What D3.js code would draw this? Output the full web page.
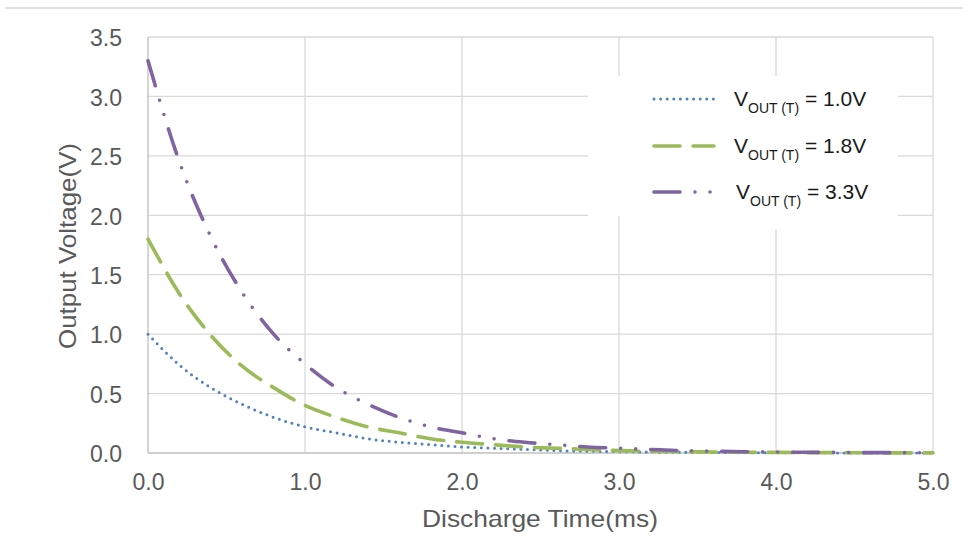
<!DOCTYPE html>
<html><head><meta charset="utf-8">
<script src="https://cdn.jsdelivr.net/npm/d3@7"></script>
<style>body{margin:0;background:#fff}svg{display:block}text{font-family:"Liberation Sans",Arial,sans-serif}</style>
</head><body><svg id="c" width="963" height="560"></svg>
<script>
const times = [0.0,0.2,0.4,0.6,0.8,1.0,1.2,1.4,1.6,1.8,2.0,2.2,2.4,2.6,2.8,3.0,3.2,3.4,3.6,3.8,4.0,4.2,4.4,4.6,4.8,5.0];
const v10 = [1.00,0.74,0.55,0.41,0.30,0.22,0.17,0.12,0.09,0.07,0.05,0.04,0.03,0.02,0.015,0.011,0.008,0.006,0.005,0.003,0.003,0.002,0.001,0.001,0.001,0.001];
const v18 = [1.80,1.34,0.99,0.73,0.55,0.40,0.30,0.22,0.17,0.12,0.09,0.07,0.05,0.04,0.03,0.02,0.015,0.011,0.008,0.006,0.005,0.003,0.003,0.002,0.001,0.001];
const v33 = [3.30,2.45,1.82,1.35,1.00,0.75,0.55,0.41,0.30,0.22,0.17,0.12,0.09,0.07,0.05,0.04,0.03,0.02,0.015,0.011,0.008,0.006,0.005,0.003,0.003,0.002];
const xTicks = [0,1,2,3,4,5];
const yTicks = [0,0.5,1,1.5,2,2.5,3,3.5];
const seriesNames = ["1.0V","1.8V","3.3V"];

const svg = d3.select("#c");
const x = d3.scaleLinear().domain([0,5]).range([148,933]);
const y = d3.scaleLinear().domain([0,3.5]).range([453,37]);

// top separator
svg.append("line").attr("x1",5).attr("x2",963).attr("y1",8).attr("y2",8).attr("stroke","#c8c8c8").attr("stroke-width",1.2);

// gridlines
svg.append("g").selectAll("line").data(yTicks.slice(1)).join("line")
  .attr("x1",x(0)).attr("x2",x(5)).attr("y1",d=>y(d)).attr("y2",d=>y(d))
  .attr("stroke","#d9d9d9").attr("stroke-width",1.3);
svg.append("g").selectAll("line").data(xTicks.slice(1)).join("line")
  .attr("x1",d=>x(d)).attr("x2",d=>x(d)).attr("y1",y(0)).attr("y2",y(3.5))
  .attr("stroke","#d9d9d9").attr("stroke-width",1.3);
// axes lines
svg.append("line").attr("x1",x(0)).attr("x2",x(0)).attr("y1",y(0)).attr("y2",y(3.5)).attr("stroke","#bfbfbf").attr("stroke-width",1.3);
svg.append("line").attr("x1",x(0)).attr("x2",x(5)).attr("y1",y(0)).attr("y2",y(0)).attr("stroke","#bfbfbf").attr("stroke-width",1.3);

// tick labels
const yAxis = d3.axisLeft(y).tickValues(yTicks).tickFormat(d3.format(".1f")).tickSize(0).tickPadding(26);
const gy = svg.append("g").attr("transform",`translate(${x(0)},0)`).call(yAxis);
gy.select(".domain").remove();
gy.selectAll("text").attr("font-size",23).attr("fill","#595959").attr("dy","0.38em").attr("font-family","Liberation Sans, Arial, sans-serif");
const xAxis = d3.axisBottom(x).tickValues(xTicks).tickFormat(d3.format(".1f")).tickSize(0).tickPadding(21);
const gx = svg.append("g").attr("transform",`translate(0,${y(0)})`).call(xAxis);
gx.select(".domain").remove();
gx.selectAll("text").attr("font-size",23).attr("fill","#595959").attr("font-family","Liberation Sans, Arial, sans-serif");

// axis titles
svg.append("text").attr("x",540).attr("y",527).attr("text-anchor","middle").attr("font-size",24).attr("fill","#595959")
  .attr("textLength",236).attr("lengthAdjust","spacingAndGlyphs").text("Discharge Time(ms)");
svg.append("text").attr("transform","translate(76,246) rotate(-90)").attr("text-anchor","middle").attr("font-size",24).attr("fill","#595959")
  .attr("textLength",206).attr("lengthAdjust","spacingAndGlyphs").text("Output Voltage(V)");

const styles = [
  {color:"#4f81c7", width:3, dash:"0,6.6", vals:v10},
  {color:"#9bbb59", width:3.6, dash:"26,13", vals:v18},
  {color:"#8064a2", width:3.6, dash:"26,15,0,15,0,15", vals:v33}
];
const line = d3.line().x((d,i)=>x(times[i])).y(d=>y(d)).curve(d3.curveMonotoneX);
const gl = svg.append("g");
styles.forEach(s=>{
  gl.append("path").attr("d",line(s.vals)).attr("fill","none").attr("stroke",s.color)
    .attr("stroke-width",s.width).attr("stroke-dasharray",s.dash).attr("stroke-linecap","round");
});

// legend background
svg.append("rect").attr("x",588).attr("y",76).attr("width",310).attr("height",140).attr("fill","#fff");
svg.append("rect").attr("x",717).attr("y",170).attr("width",168).attr("height",59).attr("fill","#fff");
const legY = [99,146,192];
const textX = [734,734,736];
styles.forEach((s,i)=>{
  svg.append("line").attr("x1",654).attr("x2",714).attr("y1",legY[i]).attr("y2",legY[i])
    .attr("stroke",s.color).attr("stroke-width",s.width).attr("stroke-dasharray",s.dash).attr("stroke-linecap","round");
  const t = svg.append("text").attr("x",textX[i]).attr("y",legY[i]+7).attr("font-size",21).attr("fill","#1a1a1a");
  t.append("tspan").text("V");
  t.append("tspan").attr("dy",7).attr("font-size",14).text("OUT (T)");
  t.append("tspan").attr("dy",-7).attr("font-size",21).text(" = " + seriesNames[i]);
});
</script></body></html>
